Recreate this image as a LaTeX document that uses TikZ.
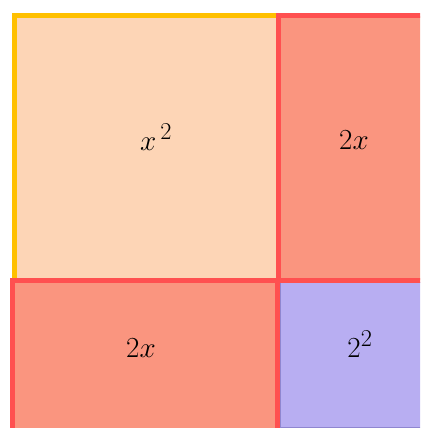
\documentclass[tikz,border=0pt]{standalone}
\usepackage{amsmath}
\definecolor{peach}{HTML}{FDD5B6}
\definecolor{goldline}{HTML}{FFC000}
\definecolor{salmon}{HTML}{FA957F}
\definecolor{redline}{HTML}{FF5050}
\definecolor{lilac}{HTML}{B8AEF2}
\definecolor{lilacline}{HTML}{8F86D0}
\begin{document}
\begin{tikzpicture}[x=1pt,y=-1pt,
  sqbox/.style={fill=peach,draw=goldline,line width=5pt},
  recbox/.style={fill=salmon,draw=redline,line width=5pt},
  smallbox/.style={fill=lilac,draw=lilacline,line width=0.8pt},
  lbl/.style={anchor=base,inner sep=0pt,scale=1.17,font=\Huge}]
\useasboundingbox (0,0) rectangle (420,428);
\clip (0,0) rectangle (420,428);
\fill[white] (0,0) rectangle (420,428);
\draw[sqbox] (14.5,15.8) rectangle (278,280);
\draw[smallbox] (280,282) rectangle (425,427);
\draw[recbox] (278.5,15.8) rectangle (430,280);
\draw[recbox] (12.5,280) rectangle (277.5,440);
\node[lbl] (xsq) at (156,150) {$x^{\,2}$};
\node[lbl] (twoxa) at (354,149) {$2x$};
\node[lbl] (twoxb) at (141,357) {$2x$};
\node[lbl] (twosq) at (360,357) {$2^{2}$};
\end{tikzpicture}
\end{document}
